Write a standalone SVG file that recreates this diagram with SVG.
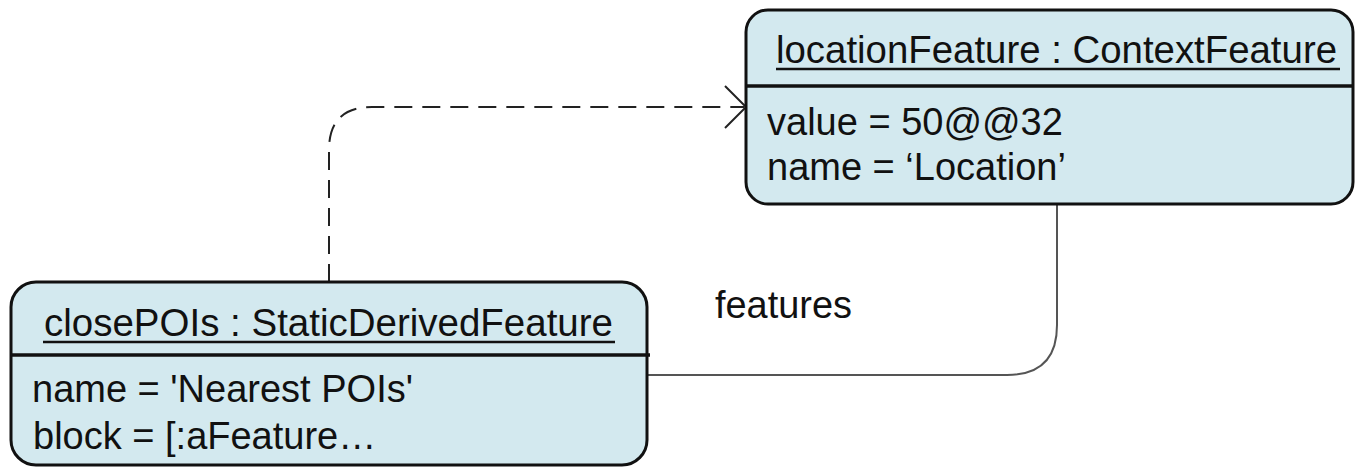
<svg xmlns="http://www.w3.org/2000/svg" width="1355" height="467" viewBox="0 0 1355 467">
  <style>
    .box { fill: #d3e9ef; stroke: #111; stroke-width: 3; }
    .sep { stroke: #111; stroke-width: 3.5; fill: none; }
    .uline { stroke: #111; stroke-width: 2.5; }
    .txt { font-family: "Liberation Sans", Arial, sans-serif; font-size: 38px; fill: #111; }
    .dep { fill: none; stroke: #222; stroke-width: 2; stroke-dasharray: 18 10; }
    .assoc { fill: none; stroke: #555; stroke-width: 2; }
    .head { fill: none; stroke: #222; stroke-width: 2; }
  </style>
  <rect width="1355" height="467" fill="#fff"/>

  <!-- connectors -->
  <g id="connectors">
    <path class="dep" d="M329,282 V150 Q329,107 372,107 H744"/>
    <polyline class="head" points="725,86 746,107 725,128"/>
    <path class="assoc" d="M1057,204 V325 Q1057,375 1007,375 H647"/>
    <text class="txt" x="715" y="318" textLength="137" lengthAdjust="spacingAndGlyphs">features</text>
  </g>

  <!-- object: locationFeature -->
  <g id="locationFeature">
    <rect class="box" x="746" y="10" width="607" height="194" rx="22" ry="22"/>
    <line class="sep" x1="746" y1="86" x2="1353" y2="86"/>
    <text class="txt" x="776" y="63" textLength="561" lengthAdjust="spacingAndGlyphs">locationFeature : ContextFeature</text>
    <line class="uline" x1="776" y1="69" x2="1340" y2="69"/>
    <text class="txt" x="767" y="135">value = 50@@32</text>
    <text class="txt" x="767" y="180">name = ‘Location’</text>
  </g>

  <!-- object: closePOIs -->
  <g id="closePOIs">
    <rect class="box" x="11" y="282" width="636" height="183" rx="25" ry="25"/>
    <line class="sep" x1="11" y1="355" x2="650" y2="355"/>
    <text class="txt" x="44" y="336" textLength="569" lengthAdjust="spacingAndGlyphs">closePOIs : StaticDerivedFeature</text>
    <line class="uline" x1="43" y1="342" x2="615" y2="342"/>
    <text class="txt" x="32" y="402">name = 'Nearest POIs'</text>
    <text class="txt" x="33" y="449">block = [:aFeature…</text>
  </g>
</svg>
